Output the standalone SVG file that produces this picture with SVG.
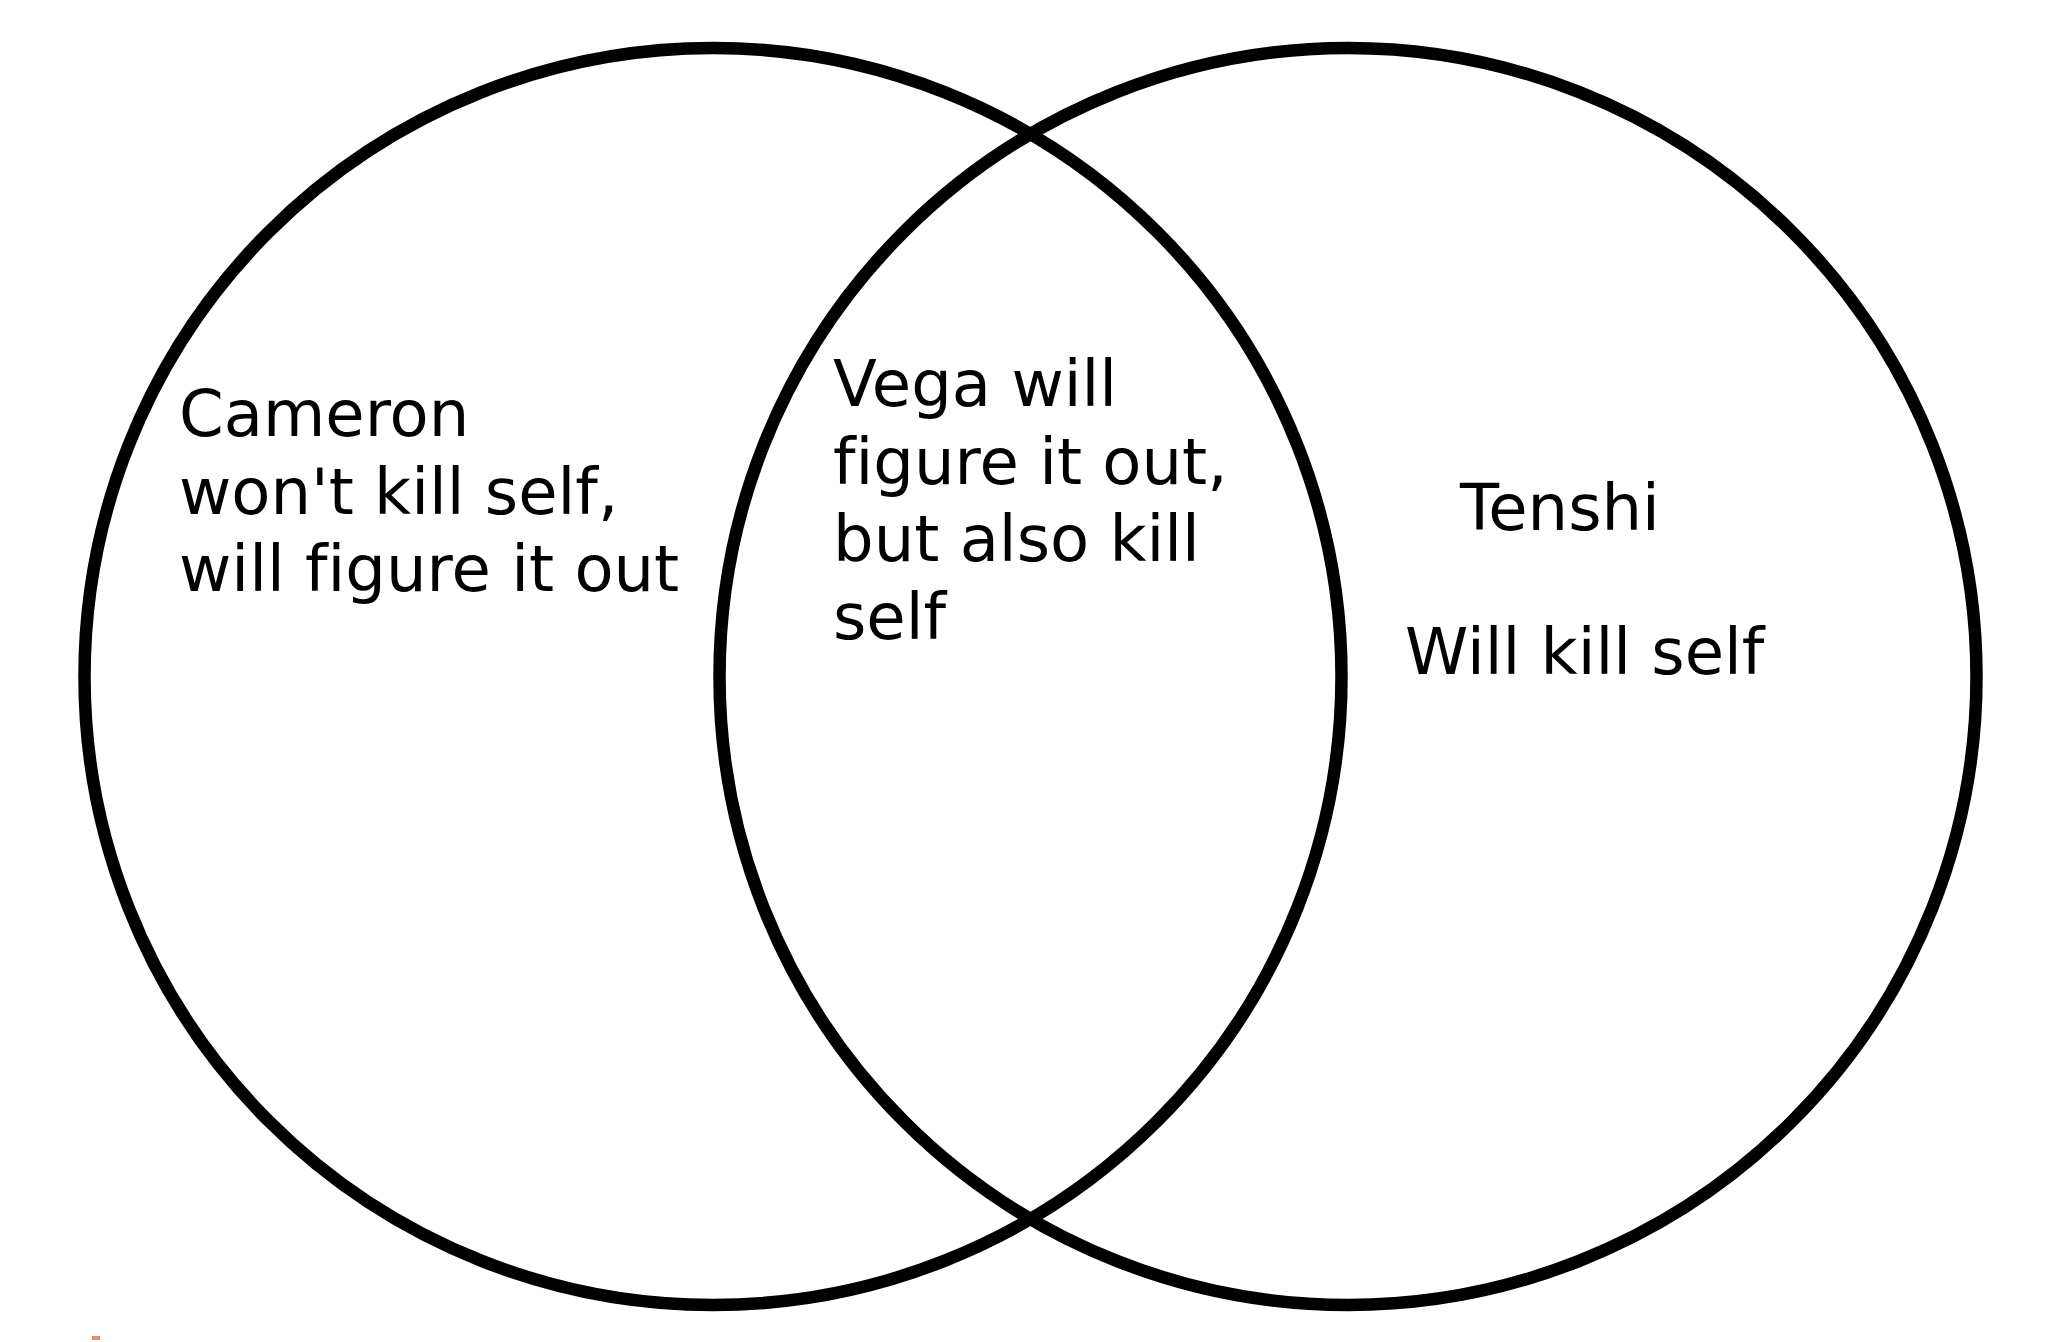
<svg xmlns="http://www.w3.org/2000/svg" width="2051" height="1342" viewBox="0 0 2051 1342">
  <style>
    .ring { fill: none; stroke: #000; stroke-width: 12.5; }
    .lbl { font-family: "DejaVu Sans", Verdana, sans-serif; font-size: 64px; fill: #000; font-variant-ligatures: none; font-feature-settings: "liga" 0, "clig" 0; }
  </style>
  <rect width="2051" height="1342" fill="#fff"/>
  <g id="set-left">
    <circle class="ring" cx="713" cy="676.5" r="628.5"/>
  </g>
  <g id="set-right">
    <circle class="ring" cx="1348" cy="676.5" r="628.5"/>
  </g>
  <g id="label-cameron">
    <text class="lbl" x="179" y="436">Cameron</text>
    <text class="lbl" x="179" y="513.5">won't kill self,</text>
    <text class="lbl" x="179" y="591">will figure it out</text>
  </g>
  <g id="label-vega">
    <text class="lbl" x="833" y="406">Vega will</text>
    <text class="lbl" x="833" y="483.5">figure it out,</text>
    <text class="lbl" x="833" y="561">but also kill</text>
    <text class="lbl" x="833" y="638.5">self</text>
  </g>
  <g id="label-tenshi">
    <text class="lbl" x="1460" y="530">Tenshi</text>
    <text class="lbl" x="1405" y="674">Will kill self</text>
  </g>
  <g id="connectors"/>
  <rect x="92" y="1336" width="8" height="4" fill="#e8906a"/>
</svg>
